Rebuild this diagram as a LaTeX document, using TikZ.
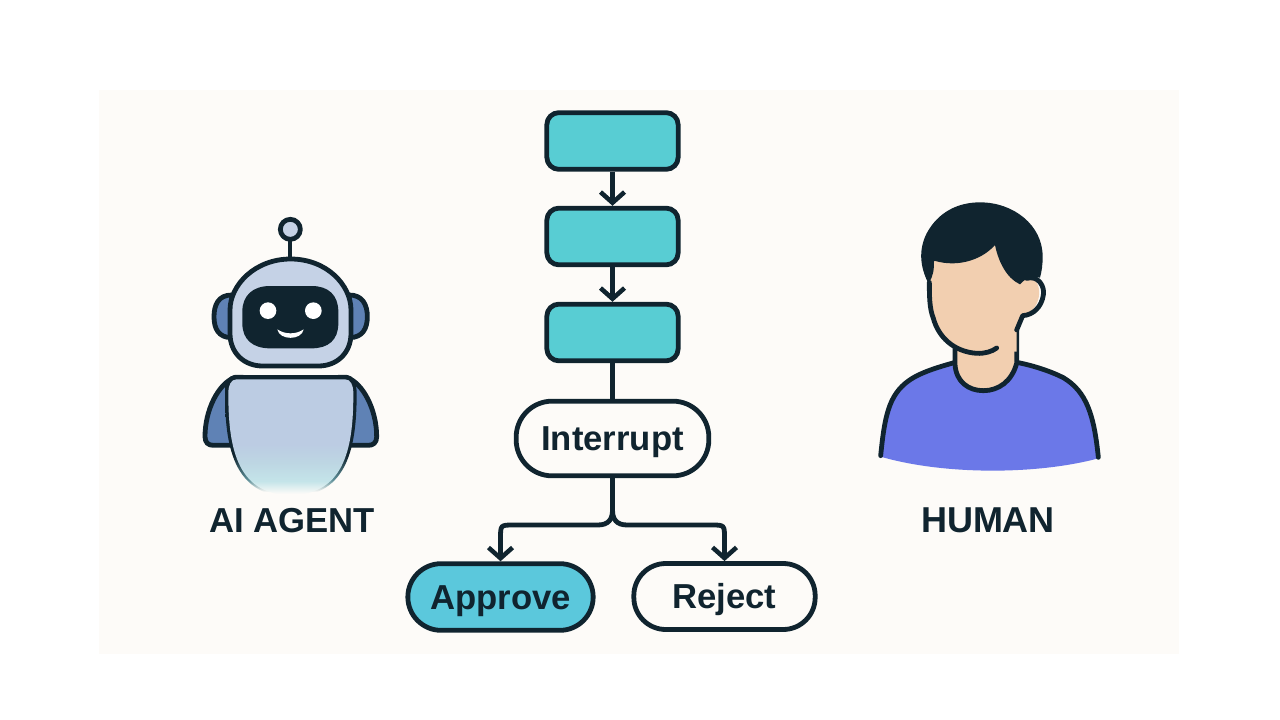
\documentclass[tikz,border=0pt]{standalone}
\usepackage{fontspec}
\setmainfont{Liberation Sans}
\usetikzlibrary{arrows.meta}
\definecolor{ink}{HTML}{10242F}
\definecolor{paper}{HTML}{FDFBF8}
\definecolor{teal}{HTML}{58CDD3}
\definecolor{sky}{HTML}{5BC8DC}
\definecolor{steel}{HTML}{5F82B5}
\definecolor{shell}{HTML}{C5D2E6}
\definecolor{torso}{HTML}{BCCCE3}
\definecolor{skin}{HTML}{F2CFB0}
\definecolor{shirt}{HTML}{6B78E8}
\definecolor{mist}{HTML}{C4E4E9}
\definecolor{haze}{HTML}{BDD6E3}
\definecolor{rim}{HTML}{5E8F98}
\pgfdeclareverticalshading{torsofill}{100bp}{
  color(0bp)=(paper); color(25.5bp)=(paper); color(31bp)=(mist);
  color(39bp)=(haze); color(47bp)=(torso); color(100bp)=(torso)}
\pgfdeclareverticalshading{torsoedge}{100bp}{
  color(0bp)=(paper); color(27bp)=(paper); color(32bp)=(rim);
  color(42bp)=(ink); color(100bp)=(ink)}
\tikzset{
  x=0.75pt, y=-0.75pt,
  outline/.style={draw=ink, line width=3.6pt, line join=round, line cap=round},
  stepbox/.style={outline, fill=teal, rounded corners=9pt, minimum width=98.5pt, minimum height=42.5pt, inner sep=0pt},
  pill/.style={outline, rounded corners=27pt, inner sep=0pt, text height=22pt, text depth=4pt, font=\bfseries\fontsize{26}{30}\selectfont, text=ink},
  caption/.style={font=\bfseries\fontsize{26}{30}\selectfont, text=ink, inner sep=0pt},
  link/.style={draw=ink, line width=3.6pt},
  flow/.style={link, -{Straight Barb[length=8pt,width=18pt,line width=3.4pt]}},
  zoomed/.style={x=0.25pt, y=-0.25pt},
}
\begin{document}
\begin{tikzpicture}
\useasboundingbox (0,0) rectangle (1280,720);
\fill[white] (0,0) rectangle (1280,720);
\fill[paper] (99,90) rectangle (1179,654);

% Robot
\begin{scope}[zoomed, shift={(570,630)}]
  \draw[outline, line width=3pt] (301,147) -- (301,85);
  \draw[outline, fill=shell] (301,58) circle (30);
  % ears
  \draw[outline, fill=steel] (125,255) .. controls (85,255) and (72,285) .. (72,320) .. controls (72,355) and (85,383) .. (125,383) -- cycle;
  \draw[outline, fill=steel] (478,255) .. controls (518,255) and (532,285) .. (532,320) .. controls (532,355) and (518,383) .. (478,383) -- cycle;
  % head
  \draw[outline, fill=shell] (302,147) .. controls (410,147) and (483,225) .. (483,300) -- (483,370) .. controls (483,430) and (440,468) .. (385,468) -- (218,468) .. controls (163,468) and (120,430) .. (120,370) -- (120,300) .. controls (120,225) and (195,147) .. (302,147) -- cycle;
  % face plate
  \fill[ink] (157,305) .. controls (157,255) and (190,228) .. (240,228) -- (365,228) .. controls (415,228) and (445,255) .. (445,305) -- (445,340) .. controls (445,390) and (415,415) .. (365,415) -- (240,415) .. controls (190,415) and (157,390) .. (157,340) -- cycle;
  \fill[white] (234,302) circle (25) (370,302) circle (25);
  \fill[white] (262,358) .. controls (285,374) and (318,374) .. (341,358) .. controls (335,392) and (268,392) .. (262,358) -- cycle;
  % arms
  \draw[outline, fill=steel] (135,502) .. controls (85,520) and (45,600) .. (45,680) .. controls (45,698) and (55,706) .. (70,706) -- (160,706) -- (160,502) -- cycle;
  \draw[outline, fill=steel] (470,502) .. controls (520,520) and (560,600) .. (560,680) .. controls (560,698) and (550,706) .. (535,706) -- (445,706) -- (445,502) -- cycle;
  % torso, its rim fading out towards the bottom
  \shade[shading=torsoedge] (135,495) -- (470,495) .. controls (490,495) and (500,520) .. (500,550) .. controls (500,700) and (478,860) .. (302,860) .. controls (127,860) and (105,700) .. (105,550) .. controls (105,520) and (115,495) .. (135,495) -- cycle;
  \shade[shading=torsofill] (140,508) -- (465,508) .. controls (482,508) and (490,525) .. (490,550) .. controls (490,700) and (470,855) .. (302,855) .. controls (135,855) and (115,700) .. (115,550) .. controls (115,525) and (123,508) .. (140,508) -- cycle;
\end{scope}

% Person
\begin{scope}[zoomed, shift={(2610,585)}]
  % shirt
  \fill[shirt] (32,785) .. controls (45,650) and (60,590) .. (130,545) -- (252,500) -- (445,500) -- (580,545) .. controls (650,590) and (672,660) .. (685,790) .. controls (500,840) and (220,840) .. (32,785) -- cycle;
  \draw[outline] (32,782) .. controls (45,650) and (60,590) .. (130,548) .. controls (165,528) and (210,515) .. (252,503);
  \draw[outline] (685,787) .. controls (672,660) and (650,590) .. (580,548) .. controls (540,528) and (490,512) .. (445,503);
  % neck
  \fill[skin] (255,440) -- (440,400) -- (440,505) .. controls (425,560) and (385,587) .. (340,587) .. controls (295,587) and (255,560) .. (255,505) -- cycle;
  \draw[outline] (255,462) -- (255,508) .. controls (258,560) and (295,587) .. (340,587) .. controls (385,587) and (425,560) .. (440,505) -- (440,405);
  % face and ear
  \fill[skin] (180,150) -- (400,120) -- (480,248) .. controls (515,250) and (525,340) .. (458,362) -- (440,405) -- (440,470) -- (260,465) .. controls (210,440) and (183,380) .. (183,320) -- cycle;
  \draw[outline] (178,262) .. controls (178,300) and (178,340) .. (190,370) .. controls (205,425) and (250,470) .. (320,475) .. controls (345,476) and (365,470) .. (380,459);
  \draw[outline] (470,250) .. controls (505,240) and (525,275) .. (520,300) .. controls (515,335) and (490,360) .. (458,362) -- (440,405);
  % hair
  \fill[ink] (175,265) .. controls (150,215) and (145,165) .. (170,115) .. controls (205,50) and (265,22) .. (330,22) .. controls (430,22) and (518,90) .. (518,185) .. controls (518,210) and (515,230) .. (510,248) .. controls (490,240) and (465,250) .. (450,268) .. controls (410,250) and (385,200) .. (375,150) .. controls (340,190) and (270,220) .. (192,197) .. controls (192,225) and (190,245) .. (175,265) -- cycle;
\end{scope}

% Flow
\node[stepbox] (first)  at (612.5,141) {};
\node[stepbox] (second) at (612.5,236.5) {};
\node[stepbox] (third)  at (612.5,332.5) {};
\node[pill, minimum width=144.5pt, minimum height=56pt, fill=paper] (interrupt) at (612.5,438.5) {Interrupt};
\node[pill, minimum width=139pt, minimum height=50pt, fill=sky, rounded corners=25pt] (approve) at (500.5,597) {Approve};
\node[pill, minimum width=136pt, minimum height=49.5pt, fill=paper, rounded corners=24pt] (reject) at (724.5,596.5) {Reject};

\coordinate (fork) at (612.5,510);
\coordinate (forkL) at (500.5,525);
\coordinate (forkR) at (724.5,525);

\draw[flow] (first) -- (second);
\draw[flow] (second) -- (third);
\draw[link] (third) -- (interrupt);
\draw[link] (interrupt) -- (fork);
\draw[flow] (fork) .. controls ([yshift=-7pt]fork) and ([xshift=-3pt]forkL-|fork) .. ([xshift=-11pt]forkL-|fork) -- ([xshift=10pt]forkL) .. controls (forkL) and (forkL) .. ([yshift=-10pt]forkL) -- (approve.north);
\draw[flow] (fork) .. controls ([yshift=-7pt]fork) and ([xshift=3pt]forkR-|fork) .. ([xshift=11pt]forkR-|fork) -- ([xshift=-10pt]forkR) .. controls (forkR) and (forkR) .. ([yshift=-10pt]forkR) -- (reject.north);

% Captions
\node[caption] (agentlabel) at (292,520.5) {AI AGENT};
\node[caption, font=\bfseries\fontsize{27}{30}\selectfont] (humanlabel) at (988,520.5) {HUMAN};
\end{tikzpicture}
\end{document}
